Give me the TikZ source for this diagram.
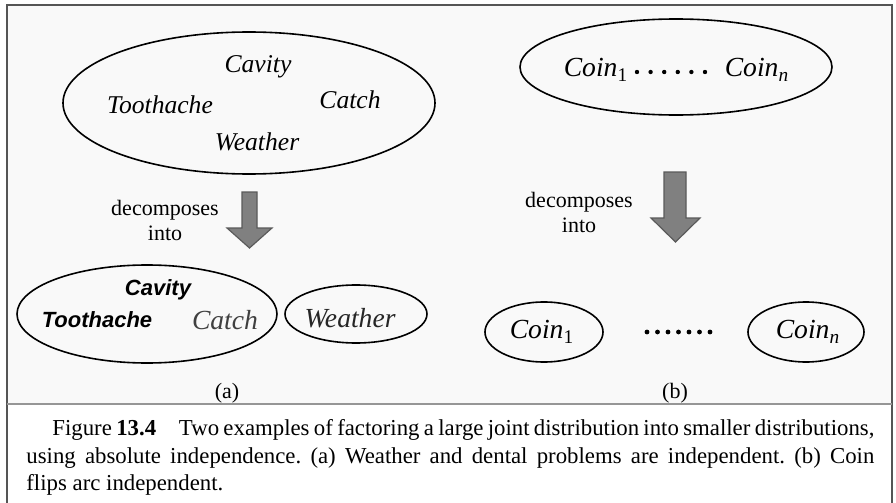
\documentclass[tikz,border=0pt]{standalone}
\usepackage{fontspec}
\setmainfont{Liberation Serif}
\newfontfamily\arialfont{Liberation Sans}
\usetikzlibrary{shapes.geometric}
\definecolor{framegray}{RGB}{85,85,85}
\definecolor{rulegray}{RGB}{150,150,150}
\definecolor{arrowgray}{RGB}{128,128,128}
\definecolor{panelgray}{RGB}{249,249,249}

\begin{document}
\begin{tikzpicture}[x=0.5pt,y=-0.5pt,
  set/.style={draw,ellipse,line width=0.8pt,inner sep=0pt},
  var/.style={font=\fontsize{12.8}{15}\selectfont\itshape},
  bigvar/.style={font=\fontsize{13.8}{16}\selectfont\itshape},
  boldvar/.style={font=\fontsize{11}{13}\selectfont\arialfont\bfseries\itshape},
  note/.style={align=center,font=\fontsize{11}{12.5}\selectfont},
  blockarrow/.style={fill=arrowgray,draw=arrowgray!70!black,line width=0.6pt},
  tag/.style={font=\fontsize{11}{13}\selectfont}]
  \useasboundingbox (0,0) rectangle (896,503);
  \fill[panelgray] (7,5) rectangle (892,404);

  % (a) full joint set and its split
  \node[set,minimum width=186pt,minimum height=71pt] (joint) at (249,103) {};
  \node[var] (cavA) at (258,67) {Cavity};
  \node[var] (toothA) at (160,105) {Toothache};
  \node[var] (catchA) at (350,100) {Catch};
  \node[var] (weatherA) at (257,142) {Weather};
  \node[note] (decompA) at (165,220) {decomposes\\into};
  \filldraw[blockarrow] (242,192) -- (257,192) -- (257,228) -- (272,228)
    -- (249.5,248) -- (227,228) -- (242,228) -- cycle;
  \node[set,minimum width=130pt,minimum height=49pt] (dental) at (147,314) {};
  \node[boldvar] (cavB) at (158,290) {Cavity};
  \node[boldvar] (toothB) at (97,320) {Toothache};
  \node[bigvar,text=black!75] (catchB) at (225,320) {Catch};
  \node[set,minimum width=71pt,minimum height=29pt] (weather) at (356,314) {};
  \node[bigvar,text=black!85] (weatherB) at (350,318) {Weather};
  \node[tag] (capA) at (227,393) {(a)};

  % (b) coins
  \node[set,minimum width=156pt,minimum height=48pt] (coins) at (676,67) {};
  \node[bigvar] (coin1A) at (596,70) {Coin\textsubscript{\upshape 1}};
  \node[bigvar] (coinnA) at (757,70) {Coin\textsubscript{n}};
  \foreach \i in {0,...,5}
    \fill (637+\i*13.6,72) circle (2.2);
  \node[note] (decompB) at (579,212) {decomposes\\into};
  \filldraw[blockarrow] (664,172) -- (686,172) -- (686,218) -- (700,218)
    -- (675.5,242) -- (651,218) -- (664,218) -- cycle;
  \node[set,minimum width=59pt,minimum height=30pt] (coin1) at (544,332) {};
  \node[bigvar] (coin1B) at (542,332) {Coin\textsubscript{\upshape 1}};
  \foreach \i in {0,...,6}
    \fill (647+\i*10.5,332) circle (2.4);
  \node[set,minimum width=58pt,minimum height=30pt] (coinn) at (806,332) {};
  \node[bigvar] (coinnB) at (808,332) {Coin\textsubscript{n}};
  \node[tag] (capB) at (675,393) {(b)};

  % frame and caption
  \draw[framegray,line width=1pt] (7,503) -- (7,5) -- (892,5) -- (892,503);
  \draw[rulegray,line width=1pt] (7,404) -- (892,404);
  \node[anchor=north west,inner sep=0pt,text width=424pt,align=justify,
    font=\fontsize{11.4}{13.8}\selectfont] (caption) at (26,419)
    {\frenchspacing\parindent=0pt\hspace*{13pt}Figure \textbf{13.4}\quad Two examples of factoring a large joint distribution into smaller distributions,\linebreak
     using absolute independence. (a) Weather and dental problems are independent. (b) Coin\linebreak
     flips arc independent.};
\end{tikzpicture}
\end{document}
